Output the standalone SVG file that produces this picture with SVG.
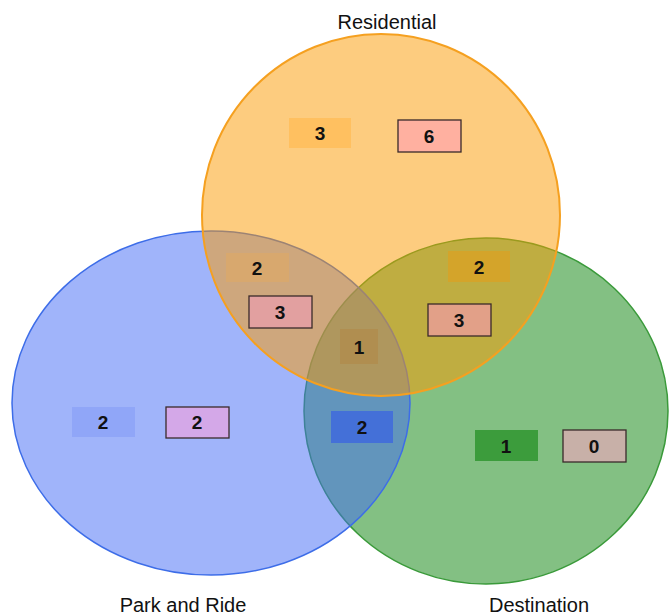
<svg xmlns="http://www.w3.org/2000/svg" width="669" height="616" viewBox="0 0 669 616">
<style>
.lbl{font-family:"Liberation Sans",Arial,sans-serif;font-size:20px;fill:#111}
.num{font-family:"Liberation Sans",Arial,sans-serif;font-size:19px;font-weight:bold;fill:#111;text-anchor:middle}
.bx{stroke:#3a2a2a;stroke-width:1.3}
</style>
<rect width="669" height="616" fill="#fff"/>
<g id="destination">
<ellipse cx="486" cy="411" rx="182" ry="173" fill="#1e8c1e" fill-opacity="0.55" stroke="#3a9a3a" stroke-width="1.5"/>
</g>
<g id="park-and-ride">
<ellipse cx="211" cy="403" rx="199" ry="172" fill="#4169f5" fill-opacity="0.5" stroke="#3d6de8" stroke-width="1.5"/>
</g>
<g id="residential">
<ellipse cx="381" cy="215" rx="179" ry="181" fill="#fb9a00" fill-opacity="0.5" stroke="#f5a020" stroke-width="2"/>
</g>
<g id="labels">
<text class="lbl" x="387" y="29" text-anchor="middle">Residential</text>
<text class="lbl" x="183" y="612" text-anchor="middle">Park and Ride</text>
<text class="lbl" x="539" y="612" text-anchor="middle">Destination</text>
</g>
<g id="counts">
<rect x="289" y="118" width="62" height="30" fill="#ffc060"/><text class="num" x="320" y="140">3</text>
<rect class="bx" x="398" y="120" width="63" height="32" fill="#ffb0a0"/><text class="num" x="429" y="143">6</text>
<rect x="226" y="253" width="63" height="29" fill="#d8a86e"/><text class="num" x="257" y="275">2</text>
<rect class="bx" x="249" y="296" width="63" height="32" fill="#e2a0a0"/><text class="num" x="280" y="319">3</text>
<rect x="340" y="329" width="38" height="35" fill="#b08e50"/><text class="num" x="359" y="354">1</text>
<rect x="448" y="251" width="62" height="31" fill="#d4a42a"/><text class="num" x="479" y="274">2</text>
<rect class="bx" x="428" y="304" width="63" height="32" fill="#e2a088"/><text class="num" x="459" y="327">3</text>
<rect x="72" y="407" width="63" height="30" fill="#90a6f8"/><text class="num" x="103" y="429">2</text>
<rect class="bx" x="166" y="407" width="63" height="31" fill="#d4a8e8"/><text class="num" x="197" y="429">2</text>
<rect x="331" y="411" width="62" height="32" fill="#4470d8"/><text class="num" x="362" y="434">2</text>
<rect x="475" y="430" width="63" height="31" fill="#3c9c3c"/><text class="num" x="506" y="453">1</text>
<rect class="bx" x="563" y="430" width="63" height="32" fill="#c8b0a8"/><text class="num" x="594" y="453">0</text>
</g>
</svg>
